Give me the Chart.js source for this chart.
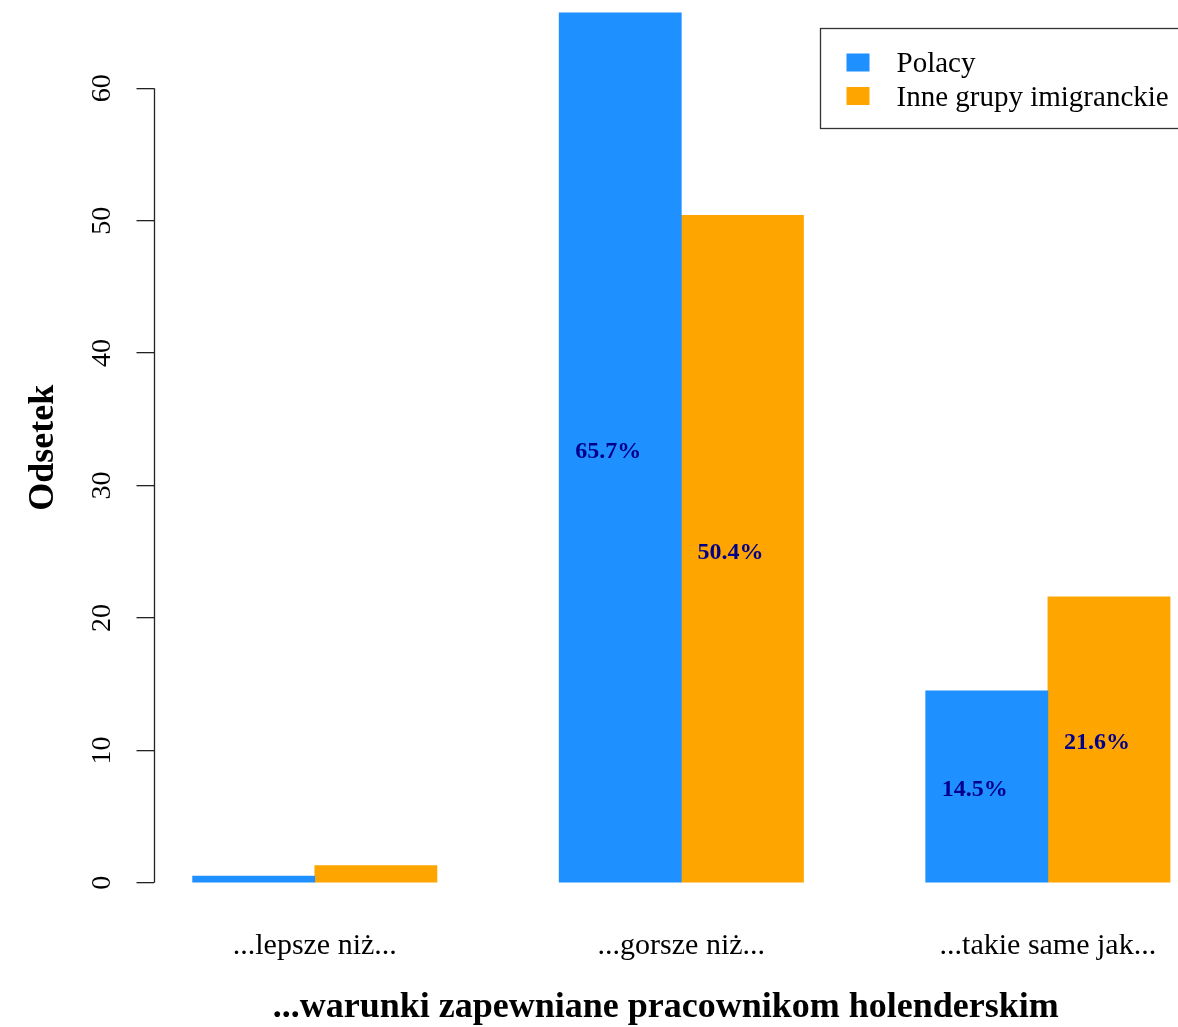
<!DOCTYPE html>
<html>
<head>
<meta charset="utf-8">
<script src="https://cdn.jsdelivr.net/npm/chart.js@4/dist/chart.umd.min.js"></script>
<style>
  html, body { margin: 0; padding: 0; background: #ffffff; overflow: hidden; }
  #wrap { width: 1178px; height: 1027px; position: relative; overflow: hidden; }
  #c { position: absolute; left: 0; top: -22px; }
</style>
</head>
<body>
<div id="wrap"><canvas id="c" width="1178" height="1049"></canvas></div>
<script>
// ---- data ----
const categories = ["...lepsze niż...", "...gorsze niż...", "...takie same jak..."];
const seriesNames = ["Polacy", "Inne grupy imigranckie"];
const polacy = [0.5, 65.7, 14.5];
const inne = [1.3, 50.4, 21.6];
const yTicks = [0, 10, 20, 30, 40, 50, 60];
const labelledGroups = [false, true, true];
const xTitle = "...warunki zapewniane pracownikom holenderskim";
const yTitle = "Odsetek";

// ---- styles ----
const colPolacy = "#1E90FF";
const colInne = "#FFA500";
const labelColor = "#00008B";
const serif = "'Liberation Serif', 'DejaVu Serif', serif";

// group layout in R barplot units: each group = 2 bars of width 1 + gap of 1
const groupCenter = i => 2 + 3 * i;
const toPoints = (vals, side) => vals.map((v, i) => ({ x: groupCenter(i) + side * 0.5, y: v }));

function noPad(s) {
  s.paddingTop = -200; s.paddingBottom = -200; s.paddingLeft = -200; s.paddingRight = -200;
}

const valueLabelPlugin = {
  id: 'valueLabels',
  afterDatasetsDraw(chart) {
    const ctx = chart.ctx;
    const ys = chart.scales.y;
    ctx.save();
    ctx.font = "bold 24px " + serif;
    ctx.fillStyle = labelColor;
    ctx.textAlign = "center";
    ctx.textBaseline = "middle";
    chart.data.datasets.forEach((ds, di) => {
      const meta = chart.getDatasetMeta(di);
      meta.data.forEach((bar, i) => {
        if (!labelledGroups[i]) return;
        const v = ds.data[i].y;
        ctx.fillText(v.toFixed(1) + "%", bar.x - 12, ys.getPixelForValue(v / 2) + 3.5);
      });
    });
    ctx.restore();
  }
};

const axisLinePlugin = {
  id: 'axisLine',
  afterDraw(chart) {
    const ys = chart.scales.y;
    const ctx = chart.ctx;
    const x = Math.round(chart.chartArea.left) + 0.5;
    ctx.save();
    ctx.strokeStyle = "#222";
    ctx.lineWidth = 1.3;
    ctx.beginPath();
    ctx.moveTo(x, ys.getPixelForValue(yTicks[0]));
    ctx.lineTo(x, ys.getPixelForValue(yTicks[yTicks.length - 1]));
    ctx.stroke();
    ctx.restore();
  }
};

const legendPlugin = {
  id: 'rLegend',
  afterDraw(chart) {
    const ctx = chart.ctx;
    const left = 820.5, top = 50.5, w = 420, h = 100;
    ctx.save();
    ctx.fillStyle = "#fff";
    ctx.fillRect(left, top, w, h);
    ctx.strokeStyle = "#333";
    ctx.lineWidth = 1.3;
    ctx.strokeRect(left, top, w, h);
    ctx.font = "29px " + serif;
    ctx.textAlign = "left";
    ctx.textBaseline = "middle";
    chart.data.datasets.forEach((ds, i) => {
      const cy = top + 34 + i * 33.5;
      ctx.fillStyle = ds.backgroundColor;
      ctx.fillRect(left + 26, cy - 9, 23, 18);
      ctx.fillStyle = "#000";
      ctx.fillText(ds.label, left + 76, cy + 2);
    });
    ctx.restore();
  }
};

new Chart(document.getElementById('c'), {
  type: 'bar',
  data: {
    datasets: [
      { label: seriesNames[0], data: toPoints(polacy, -1), backgroundColor: colPolacy, borderWidth: 0 },
      { label: seriesNames[1], data: toPoints(inne, 1), backgroundColor: colInne, borderWidth: 0 }
    ]
  },
  options: {
    responsive: false,
    animation: false,
    devicePixelRatio: 1,
    grouped: false,
    barPercentage: 1,
    categoryPercentage: 1,
    layout: { padding: 0 },
    plugins: {
      legend: { display: false },
      tooltip: { enabled: false }
    },
    scales: {
      x: {
        type: 'linear',
        min: 0.68,
        max: 9.065,
        offset: false,
        grid: { display: false, drawTicks: false, offset: false },
        border: { display: false },
        afterBuildTicks: s => { s.ticks = categories.map((c, i) => ({ value: groupCenter(i) })); },
        afterFit: s => { s.height = 109.4; noPad(s); },
        ticks: {
          autoSkip: false,
          maxRotation: 0,
          padding: 11,
          color: "#000",
          font: { family: serif, size: 30 },
          callback: (v) => categories[(v - 2) / 3]
        },
        title: {
          display: true,
          text: xTitle,
          color: "#000",
          font: { family: serif, size: 36, weight: 'bold' },
          padding: { top: 0, bottom: -2 }
        }
      },
      y: {
        type: 'linear',
        min: -2.628,
        max: 68.328,
        grid: { display: true, drawOnChartArea: false, drawTicks: true, tickLength: 17, color: "#222", tickColor: "#222", lineWidth: 1.3 },
        border: { display: false },
        afterBuildTicks: s => { s.ticks = yTicks.map(v => ({ value: v })); },
        afterFit: s => { s.width = 153.5; noPad(s); },
        ticks: {
          minRotation: 90,
          maxRotation: 90,
          crossAlign: 'center',
          padding: 20,
          color: "#000",
          font: { family: serif, size: 28 }
        },
        title: {
          display: true,
          text: yTitle,
          color: "#000",
          font: { family: serif, size: 36, weight: 'bold' },
          padding: { top: 22, bottom: 0 }
        }
      }
    }
  },
  plugins: [valueLabelPlugin, axisLinePlugin, legendPlugin]
});
</script>
</body>
</html>
